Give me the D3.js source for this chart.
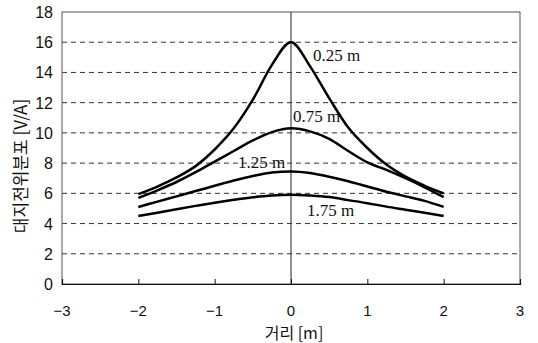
<!DOCTYPE html>
<html>
<head>
<meta charset="utf-8">
<script src="https://cdn.jsdelivr.net/npm/d3@7"></script>
<style>
  body { margin: 0; background: #fff; }
  svg { display: block; }
</style>
</head>
<body>
<svg id="chart" width="538" height="343"></svg>
<script>
// distance along ground [m]
const distances = [-2, -1.75, -1.5, -1.25, -1, -0.75, -0.5, -0.25, 0, 0.25, 0.5, 0.75, 1, 1.25, 1.5, 1.75, 2];

// ground potential [V/A] per depth
const depthLabels = ['0.25 m', '0.75 m', '1.25 m', '1.75 m'];
const pot025 = [5.95, 6.45, 7.05, 7.8, 8.9, 10.3, 12.2, 14.5, 16.0, 14.4, 12.3, 10.35, 9.0, 7.9, 7.1, 6.5, 6.0];
const pot075 = [5.7, 6.2, 6.75, 7.4, 8.1, 8.8, 9.5, 10.05, 10.3, 10.1, 9.6, 8.8, 8.05, 7.55, 7.0, 6.4, 5.75];
const pot125 = [5.1, 5.45, 5.8, 6.15, 6.5, 6.85, 7.15, 7.38, 7.45, 7.35, 7.1, 6.8, 6.45, 6.1, 5.8, 5.5, 5.1];
const pot175 = [4.5, 4.72, 4.95, 5.17, 5.38, 5.57, 5.74, 5.86, 5.9, 5.85, 5.75, 5.55, 5.35, 5.12, 4.92, 4.72, 4.5];

const xTicks = [-3, -2, -1, 0, 1, 2, 3];
const yTicks = [0, 2, 4, 6, 8, 10, 12, 14, 16, 18];

const series = [pot025, pot075, pot125, pot175];

const margin = { left: 62, right: 18, top: 12, bottom: 59 };
const width = 538, height = 343;

const svg = d3.select('#chart');

const x = d3.scaleLinear().domain([-3, 3]).range([margin.left, width - margin.right]);
const y = d3.scaleLinear().domain([0, 18]).range([height - margin.bottom, margin.top]);

// dashed gridlines
svg.append('g')
  .selectAll('line')
  .data(yTicks.filter(d => d > 0 && d < 18))
  .enter()
  .append('line')
  .attr('x1', x(-3)).attr('x2', x(3))
  .attr('y1', d => y(d)).attr('y2', d => y(d))
  .attr('stroke', '#333')
  .attr('stroke-width', 1)
  .attr('stroke-dasharray', '5,4');

// plot frame
svg.append('rect')
  .attr('x', x(-3)).attr('y', y(18))
  .attr('width', x(3) - x(-3)).attr('height', y(0) - y(18))
  .attr('fill', 'none')
  .attr('stroke', '#555')
  .attr('stroke-width', 1);

// vertical line at x = 0
svg.append('line')
  .attr('x1', x(0)).attr('x2', x(0))
  .attr('y1', y(18)).attr('y2', y(0))
  .attr('stroke', '#222')
  .attr('stroke-width', 1);

// x axis (ticks pointing inward)
const xAxis = d3.axisTop(x)
  .tickValues(xTicks)
  .tickSize(5)
  .tickFormat('');
const gx = svg.append('g')
  .attr('transform', `translate(0,${y(0)})`)
  .call(xAxis);
gx.select('.domain').attr('stroke', '#111').attr('stroke-width', 1.2);
gx.selectAll('.tick line').attr('stroke', '#111');

svg.append('g')
  .selectAll('text')
  .data(xTicks)
  .enter()
  .append('text')
  .attr('x', d => x(d))
  .attr('y', 316)
  .attr('text-anchor', 'middle')
  .style('font-family', '"Liberation Sans", Arial, sans-serif')
  .style('font-size', '15px')
  .attr('fill', '#111')
  .text(d => d < 0 ? '\u2212' + Math.abs(d) : d);

// y axis labels
svg.append('g')
  .selectAll('text')
  .data(yTicks)
  .enter()
  .append('text')
  .attr('x', 53)
  .attr('y', d => y(d) + 6)
  .attr('text-anchor', 'end')
  .style('font-family', '"Liberation Sans", Arial, sans-serif')
  .style('font-size', '16px')
  .attr('fill', '#111')
  .text(d => d);

// axis titles
svg.append('text')
  .attr('x', x(0) + 3)
  .attr('y', 339)
  .attr('text-anchor', 'middle')
  .style('font-family', '"Noto Sans CJK KR", sans-serif')
  .style('font-size', '16px')
  .attr('fill', '#111')
  .text('거리 [m]');

svg.append('text')
  .attr('transform', 'translate(27,166) rotate(-90)')
  .attr('text-anchor', 'middle')
  .style('font-family', '"Noto Sans CJK KR", sans-serif')
  .style('font-size', '17px')
  .attr('fill', '#111')
  .text('대지전위분포 [V/A]');

// curves
const line = d3.line()
  .x((d, i) => x(distances[i]))
  .y(d => y(d))
  .curve(d3.curveMonotoneX);

svg.append('g')
  .selectAll('path')
  .data(series)
  .enter()
  .append('path')
  .attr('d', d => line(d))
  .attr('fill', 'none')
  .attr('stroke', '#000')
  .attr('stroke-width', 2.5);

// depth labels
const labelPos = [
  { x: 313, y: 61 },
  { x: 293, y: 122 },
  { x: 238, y: 168 },
  { x: 307, y: 216 }
];
svg.append('g')
  .selectAll('text')
  .data(depthLabels)
  .enter()
  .append('text')
  .attr('x', (d, i) => labelPos[i].x)
  .attr('y', (d, i) => labelPos[i].y)
  .style('font-family', '"Liberation Serif", "Times New Roman", serif')
  .style('font-size', '17px')
  .attr('fill', '#111')
  .text(d => d);
</script>
</body>
</html>
